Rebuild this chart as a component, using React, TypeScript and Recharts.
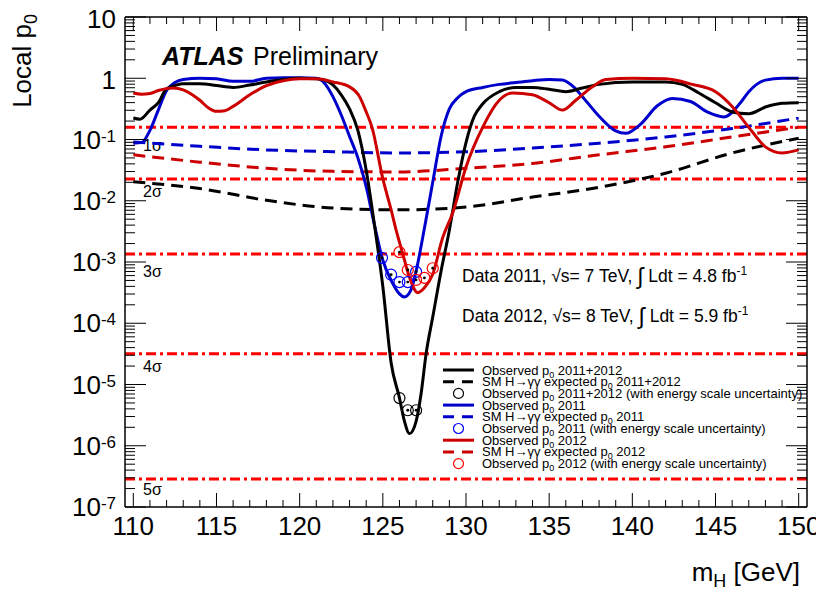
import React from 'react';
import { ComposedChart, Line, Scatter, XAxis, YAxis, ReferenceLine, Legend } from 'recharts';

const FONT = '"Liberation Sans", Arial, Helvetica, sans-serif';

// ---------- data: observed p0, 2011+2012 (black) ----------
const massObsComb = [110, 110.4, 111, 111.5, 112, 112.5, 113, 114, 115, 116, 117, 118, 119, 120, 121, 121.5, 122, 122.5, 123, 123.5, 124, 124.5, 125, 125.5, 126, 126.3, 126.6, 127, 127.3, 127.6, 128, 128.5, 129, 129.5, 130, 130.5, 131, 132, 133, 134, 135, 136, 137, 138, 140, 142, 143, 144, 145, 146, 147, 148, 149, 150];
const p0ObsComb = [0.224, 0.214, 0.302, 0.398, 0.676, 0.759, 0.813, 0.813, 0.759, 0.708, 0.776, 0.871, 0.955, 1.0, 0.977, 0.933, 0.776, 0.537, 0.316, 0.141, 0.0316, 0.00398, 3.98e-4, 2.24e-5, 6.03e-6, 2.51e-6, 1.58e-6, 2.51e-6, 7.08e-6, 3.16e-5, 1.26e-4, 7.08e-4, 3.31e-3, 0.02, 0.0891, 0.24, 0.38, 0.603, 0.708, 0.708, 0.661, 0.603, 0.692, 0.794, 0.871, 0.871, 0.794, 0.575, 0.398, 0.282, 0.263, 0.339, 0.389, 0.398];

// ---------- observed p0, 2011 (blue) ----------
const massObs2011 = [110, 110.5, 111, 111.5, 112, 112.5, 113, 114, 115, 116, 117, 118, 119, 120, 121, 121.5, 122, 122.5, 123, 123.5, 124, 124.5, 125, 125.5, 126, 126.3, 126.7, 127, 127.5, 128, 128.5, 129, 129.5, 130, 131, 132, 133, 134, 135, 135.8, 136.5, 137, 138, 139, 139.6, 140.5, 141.5, 142.4, 143.5, 144.5, 145.5, 146.5, 147, 148, 149, 150];
const p0Obs2011 = [0.0871, 0.0891, 0.141, 0.302, 0.631, 0.851, 0.955, 1.0, 0.977, 0.891, 0.891, 1.0, 1.02, 1.02, 1.0, 0.832, 0.501, 0.251, 0.112, 0.0501, 0.017, 3.98e-3, 1.07e-3, 5.01e-4, 3.02e-4, 2.69e-4, 3.55e-4, 7.08e-4, 3.55e-3, 0.02, 0.112, 0.316, 0.479, 0.603, 0.708, 0.794, 0.851, 0.912, 0.955, 0.933, 0.708, 0.501, 0.24, 0.138, 0.126, 0.178, 0.355, 0.468, 0.417, 0.282, 0.234, 0.398, 0.603, 0.933, 1.0, 1.0];

// ---------- observed p0, 2012 (red) ----------
const massObs2012 = [110, 110.5, 111, 111.5, 112.4, 113, 113.5, 114, 114.5, 115, 115.5, 116, 117, 118, 119, 120, 121, 122, 123, 123.6, 124, 124.35, 125, 125.5, 125.8, 126.2, 126.6, 127.1, 127.5, 128, 128.6, 129.2, 130, 131, 132, 132.8, 134, 135, 135.8, 136.6, 137.6, 138.4, 140, 142, 143.6, 145, 146, 147, 148, 149, 150];
const p0Obs2012 = [0.575, 0.55, 0.562, 0.631, 0.692, 0.646, 0.55, 0.437, 0.331, 0.288, 0.295, 0.347, 0.537, 0.759, 0.912, 0.977, 0.977, 0.871, 0.724, 0.501, 0.282, 0.158, 0.0229, 7.08e-3, 3.31e-3, 1.35e-3, 5.62e-4, 3.16e-4, 3.8e-4, 6.31e-4, 2.51e-3, 6.31e-3, 0.0355, 0.158, 0.437, 0.575, 0.537, 0.398, 0.302, 0.437, 0.724, 0.955, 1.0, 0.977, 0.794, 0.603, 0.347, 0.158, 0.0759, 0.0603, 0.0676];

// ---------- SM expected p0 ----------
const massExp = [110, 114, 118, 122, 126, 130, 134, 138, 142, 146, 150];
const p0ExpComb = [0.0204, 0.0158, 0.0102, 0.0076, 0.0071, 0.0079, 0.0115, 0.0166, 0.0282, 0.0603, 0.105];
const p0Exp2011 = [0.0912, 0.0776, 0.0676, 0.0631, 0.0603, 0.0631, 0.0724, 0.0871, 0.11, 0.151, 0.224];
const p0Exp2012 = [0.0562, 0.0427, 0.0339, 0.0302, 0.0295, 0.0339, 0.0407, 0.0562, 0.0759, 0.11, 0.158];

// ---------- observed with energy scale uncertainty (circles) ----------
const massEsComb = [126, 126.5, 127];
const p0EsComb = [6.0e-6, 3.8e-6, 3.8e-6];
const massEs2011 = [124.95, 125.5, 126, 126.5, 127];
const p0Es2011 = [1.17e-3, 6.2e-4, 4.7e-4, 4.7e-4, 6.9e-4];
const massEs2012 = [126, 126.5, 127, 127.5, 128];
const p0Es2012 = [1.45e-3, 7.4e-4, 5.1e-4, 5.5e-4, 7.9e-4];

// ---------- significance levels ----------
const sigmaLabels = ['1σ', '2σ', '3σ', '4σ', '5σ'];
const sigmaP0 = [0.1587, 0.02275, 0.00135, 3.167e-5, 2.867e-7];

// ---------- axes ----------
const xMajorLabels = [110, 115, 120, 125, 130, 135, 140, 145, 150];
const xMinorStep = [0, 1, 2, 3, 4];
const yDecadeExps = [-7, -6, -5, -4, -3, -2, -1, 0];
const yMinorMult = [1, 2, 3, 4, 5, 6, 7, 8, 9];

const xTicks = xMajorLabels.flatMap((m, i) =>
  i === xMajorLabels.length - 1 ? [m] : xMinorStep.map((s) => m + s)
);
const yTicks = [
  ...yDecadeExps.flatMap((e) => yMinorMult.map((k) => Number((k * Math.pow(10, e)).toPrecision(6)))),
  10,
];

const pts = (m: number[], p: number[]) => m.map((x, i) => ({ m: x, p: p[i] }));

const obsComb = pts(massObsComb, p0ObsComb);
const obs2011 = pts(massObs2011, p0Obs2011);
const obs2012 = pts(massObs2012, p0Obs2012);
const expComb = pts(massExp, p0ExpComb);
const exp2011 = pts(massExp, p0Exp2011);
const exp2012 = pts(massExp, p0Exp2012);
const esComb = pts(massEsComb, p0EsComb);
const es2011 = pts(massEs2011, p0Es2011);
const es2012 = pts(massEs2012, p0Es2012);

// ---------- styling ----------
const BLACK = '#000000';
const BLUE = '#0000cc';
const RED = '#cc0000';
const SIGMA_RED = '#ff0000';
const sigmaLabelDy = [24, 18, 23, 18, 16];

const isMajorY = (v: number) => {
  const l = Math.log10(v);
  return Math.abs(l - Math.round(l)) < 1e-6;
};

const LeftTick = (props: any) => {
  const { x, y, payload } = props;
  const v = payload.value;
  const major = isMajorY(v);
  const e = Math.round(Math.log10(v));
  return (
    <g>
      <line x1={x} y1={y} x2={x + (major ? 21 : 10)} y2={y} stroke="#000" strokeWidth={1} />
      {major &&
        (e >= 0 ? (
          <text x={x - 9} y={y + 10.5} textAnchor="end" fontSize={26} fontFamily={FONT} fill="#000">
            {e === 0 ? '1' : '10'}
          </text>
        ) : (
          <text x={x - 9} y={y + 9} textAnchor="end" fontSize={26} fontFamily={FONT} fill="#000">
            10
            <tspan dy={-7} fontSize={17}>
              {String(e)}
            </tspan>
          </text>
        ))}
    </g>
  );
};

const RightTick = (props: any) => {
  const { x, y, payload } = props;
  const major = isMajorY(payload.value);
  return <line x1={x} y1={y} x2={x - (major ? 21 : 10)} y2={y} stroke="#000" strokeWidth={1} />;
};

const BottomTick = (props: any) => {
  const { x, y, payload } = props;
  const v = payload.value;
  const major = v % 5 === 0;
  return (
    <g>
      <line x1={x} y1={y} x2={x} y2={y - (major ? 14 : 7)} stroke="#000" strokeWidth={1} />
      {major && (
        <text x={x} y={y + 28} textAnchor="middle" fontSize={26} fontFamily={FONT} fill="#000">
          {v}
        </text>
      )}
    </g>
  );
};

const TopTick = (props: any) => {
  const { x, y, payload } = props;
  const major = payload.value % 5 === 0;
  return <line x1={x} y1={y} x2={x} y2={y + (major ? 14 : 7)} stroke="#000" strokeWidth={1} />;
};

const SigmaLabel = (props: any) => {
  const { viewBox, text, dy } = props;
  if (!viewBox) return null;
  return (
    <text x={viewBox.x + 18} y={viewBox.y + dy} fontSize={16} fontFamily={FONT} fill="#000">
      {text}
    </text>
  );
};

const XTitle = (props: any) => {
  const vb = props.viewBox || { x: 117, y: 499, width: 682 };
  return (
    <text x={vb.x + vb.width - 7} y={vb.y + 74} textAnchor="end" fontSize={26} fontFamily={FONT} fill="#000">
      m
      <tspan fontSize={18} dy={6}>
        H
      </tspan>
      <tspan dy={-6}> [GeV]</tspan>
    </text>
  );
};

const YTitle = (props: any) => {
  const vb = props.viewBox || { x: 57, y: 9 };
  const tx = vb.x - 34;
  const ty = vb.y - 3;
  return (
    <text
      x={tx}
      y={ty}
      transform={`rotate(-90, ${tx}, ${ty})`}
      textAnchor="end"
      fontSize={26}
      fontFamily={FONT}
      fill="#000"
    >
      Local p
      <tspan fontSize={18} dy={6}>
        0
      </tspan>
    </text>
  );
};

const Ring = (props: any) => {
  const { cx, cy, color } = props;
  if (cx == null || cy == null) return null;
  return (
    <g>
      <circle cx={cx} cy={cy} r={5.5} fill="none" stroke={color} strokeWidth={1.2} />
      <circle cx={cx} cy={cy} r={1.4} fill="#000" />
    </g>
  );
};

const legendRows = [
  { kind: 'solid', color: BLACK, pre: 'Observed p', post: ' 2011+2012' },
  { kind: 'dash', color: BLACK, pre: 'SM H→γγ expected p', post: ' 2011+2012' },
  { kind: 'ring', color: BLACK, pre: 'Observed p', post: ' 2011+2012 (with energy scale uncertainty)' },
  { kind: 'solid', color: BLUE, pre: 'Observed p', post: ' 2011' },
  { kind: 'dash', color: BLUE, pre: 'SM H→γγ expected p', post: ' 2011' },
  { kind: 'ring', color: '#0000ff', pre: 'Observed p', post: ' 2011 (with energy scale uncertainty)' },
  { kind: 'solid', color: RED, pre: 'Observed p', post: ' 2012' },
  { kind: 'dash', color: RED, pre: 'SM H→γγ expected p', post: ' 2012' },
  { kind: 'ring', color: '#ff0000', pre: 'Observed p', post: ' 2012 (with energy scale uncertainty)' },
];

const LegendBox = () => (
  <svg width={390} height={112} style={{ display: 'block', overflow: 'visible' }}>
    {legendRows.map((r, i) => {
      const cy = 8 + i * 11.7;
      return (
        <g key={i}>
          {r.kind === 'solid' && <line x1={3} x2={34} y1={cy} y2={cy} stroke={r.color} strokeWidth={3} />}
          {r.kind === 'dash' && (
            <line x1={3} x2={34} y1={cy} y2={cy} stroke={r.color} strokeWidth={3} strokeDasharray="11 8" />
          )}
          {r.kind === 'ring' && <circle cx={18.5} cy={cy} r={5} fill="none" stroke={r.color} strokeWidth={1.2} />}
          <text x={42} y={cy + 4.5} fontSize={13} fontFamily={FONT} fill="#000">
            {r.pre}
            <tspan fontSize={9} dy={3}>
              0
            </tspan>
            <tspan dy={-3}>{r.post}</tspan>
          </text>
        </g>
      );
    })}
  </svg>
);

const W = 816;
const H = 582;

const DataLine = ({ y, label }: { y: number; label: string[] }) => (
  <text x={454} y={y} fontSize={17.5} fontFamily={FONT} fill="#000">
    {label[0]}
    <tspan fontSize={23} dy={2}>∫</tspan>
    <tspan dy={-2}>{label[1]}</tspan>
    <tspan dy={-7} fontSize={12}>
      -1
    </tspan>
  </text>
);

const dataLabel2011 = ['Data 2011, √s= 7 TeV, ', ' Ldt = 4.8 fb'];
const dataLabel2012 = ['Data 2012, √s= 8 TeV, ', ' Ldt = 5.9 fb'];

export default function App() {
  return (
    <div style={{ position: 'relative', width: W, height: H }}>
      <ComposedChart
        width={W}
        height={H}
        margin={{ top: 5, right: 13, bottom: 23, left: 57 }}
        style={{ overflow: 'visible' }}
      >
        <XAxis
          xAxisId="b"
          orientation="bottom"
          type="number"
          dataKey="m"
          domain={[109.5, 150.5]}
          allowDataOverflow
          ticks={xTicks}
          interval={0}
          tickSize={0}
          tickMargin={0}
          tickLine={false}
          tick={<BottomTick />}
          height={60}
          axisLine={{ stroke: '#000', strokeWidth: 1.5 }}
          label={<XTitle />}
        />
        <XAxis
          xAxisId="t"
          orientation="top"
          type="number"
          dataKey="m"
          domain={[109.5, 150.5]}
          allowDataOverflow
          ticks={xTicks}
          interval={0}
          tickSize={0}
          tickMargin={0}
          tickLine={false}
          tick={<TopTick />}
          height={4}
          axisLine={{ stroke: '#000', strokeWidth: 1.5 }}
        />
        <YAxis
          yAxisId="l"
          orientation="left"
          type="number"
          dataKey="p"
          scale="log"
          domain={[1e-7, 10]}
          allowDataOverflow
          ticks={yTicks}
          interval={0}
          tickSize={0}
          tickMargin={0}
          tickLine={false}
          tick={<LeftTick />}
          width={60}
          axisLine={{ stroke: '#000', strokeWidth: 1.5 }}
          label={<YTitle />}
        />
        <YAxis
          yAxisId="r"
          orientation="right"
          type="number"
          dataKey="p"
          scale="log"
          domain={[1e-7, 10]}
          allowDataOverflow
          ticks={yTicks}
          interval={0}
          tickSize={0}
          tickMargin={0}
          tickLine={false}
          tick={<RightTick />}
          width={4}
          axisLine={{ stroke: '#000', strokeWidth: 1.5 }}
        />

        {sigmaP0.map((v, i) => (
          <ReferenceLine
            key={i}
            xAxisId="b"
            yAxisId="l"
            y={v}
            stroke={SIGMA_RED}
            strokeWidth={3}
            strokeDasharray="10 4 3 4"
            label={<SigmaLabel text={sigmaLabels[i]} dy={sigmaLabelDy[i]} />}
          />
        ))}

        <Line data={obsComb} xAxisId="t" yAxisId="r" dataKey="p" stroke="none" dot={false} isAnimationActive={false} legendType="none" />

        <Line data={exp2011} xAxisId="b" yAxisId="l" dataKey="p" type="monotone" stroke={BLUE} strokeWidth={3} strokeDasharray="12 7" dot={false} isAnimationActive={false} />
        <Line data={exp2012} xAxisId="b" yAxisId="l" dataKey="p" type="monotone" stroke={RED} strokeWidth={3} strokeDasharray="12 7" dot={false} isAnimationActive={false} />
        <Line data={expComb} xAxisId="b" yAxisId="l" dataKey="p" type="monotone" stroke={BLACK} strokeWidth={3} strokeDasharray="12 7" dot={false} isAnimationActive={false} />

        <Line data={obs2011} xAxisId="b" yAxisId="l" dataKey="p" type="monotone" stroke={BLUE} strokeWidth={3} dot={false} isAnimationActive={false} />
        <Line data={obsComb} xAxisId="b" yAxisId="l" dataKey="p" type="monotone" stroke={BLACK} strokeWidth={3} dot={false} isAnimationActive={false} />
        <Line data={obs2012} xAxisId="b" yAxisId="l" dataKey="p" type="monotone" stroke={RED} strokeWidth={3} dot={false} isAnimationActive={false} />

        <Scatter data={es2011} xAxisId="b" yAxisId="l" dataKey="p" isAnimationActive={false} shape={(p: any) => <Ring {...p} color="#0000ff" />} />
        <Scatter data={es2012} xAxisId="b" yAxisId="l" dataKey="p" isAnimationActive={false} shape={(p: any) => <Ring {...p} color="#ff0000" />} />
        <Scatter data={esComb} xAxisId="b" yAxisId="l" dataKey="p" isAnimationActive={false} shape={(p: any) => <Ring {...p} color="#000000" />} />

        <Legend
          layout="horizontal"
          verticalAlign="middle"
          align="center"
          content={() => <LegendBox />}
          wrapperStyle={{ left: 432, top: 354, width: 390, height: 112 }}
        />
      </ComposedChart>

      <svg
        width={W}
        height={H}
        style={{ position: 'absolute', left: 0, top: 0, pointerEvents: 'none' }}
      >
        <text x={154} y={57} fontSize={25} fontFamily={FONT} fill="#000">
          <tspan fontWeight="bold" fontStyle="italic">
            ATLAS
          </tspan>
          <tspan x={245}>Preliminary</tspan>
        </text>
        <DataLine y={274} label={dataLabel2011} />
        <DataLine y={314} label={dataLabel2012} />
      </svg>
    </div>
  );
}
